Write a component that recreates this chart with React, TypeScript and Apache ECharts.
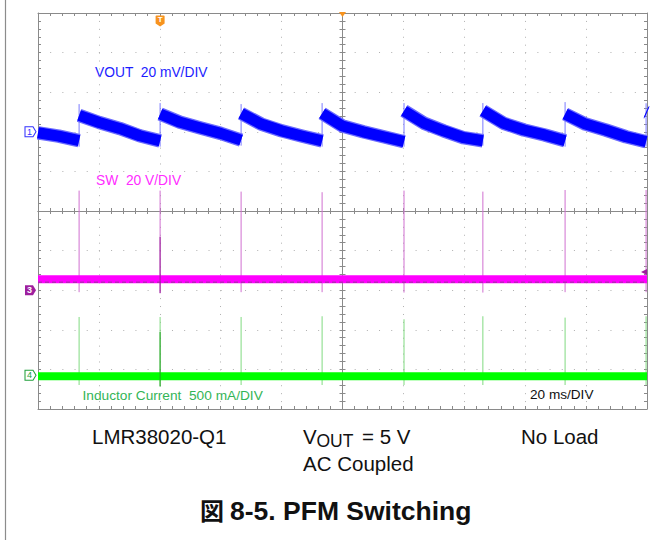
import React, { useEffect, useRef } from "react";
import * as echarts from "echarts";

const FONT = "'Liberation Sans', Arial, Helvetica, sans-serif";
const TITLE_FONT = "'Liberation Sans', Arial, 'Noto Sans CJK JP', sans-serif";

// Horizontal: time in ms, 20 ms/DIV, 10 divisions
const timeMin = -100;
const timeMax = 100;
const timePerDiv = 20;
// Vertical: screen divisions
const divMin = -5;
const divMax = 5;

// Channel reference levels (div) and scales
const ch1Ref = 2.0; // VOUT, mV/div
const ch1PerDiv = 20;
const ch3Ref = -2.0; // SW, V/div
const ch3PerDiv = 20;
const ch4Ref = -4.15; // inductor current, mA/div
const ch4PerDiv = 500;

// PFM pulse times (ms)
const pulseTimes = [-86.5, -59.9, -33.3, -6.7, 20.2, 46.1, 73.1, 99.7];
const triggerIndex = 1;

// VOUT ripple (mV, AC coupled), one segment between pulses
const voutSegments: [number, number][][] = [
  [[-100, -0.5], [-93.2, -2.2], [-86.5, -4.5]],
  [[-86.5, 8.3], [-79.9, 4.7], [-73.2, 1.7], [-66.6, -2.0], [-59.9, -4.6]],
  [[-59.9, 9.0], [-53.3, 4.8], [-46.6, 1.9], [-40.0, -0.8], [-33.3, -4.2]],
  [[-33.3, 9.3], [-26.7, 3.9], [-20.0, 0.5], [-13.4, -2.1], [-6.7, -4.6]],
  [[-6.7, 9.3], [0.0, 2.9], [6.8, 0.0], [13.5, -2.5], [20.2, -5.0]],
  [[20.2, 10.6], [26.7, 4.4], [33.2, 0.5], [39.6, -2.9], [46.1, -4.5]],
  [[46.1, 10.6], [52.9, 4.3], [59.6, 0.9], [66.4, -1.6], [73.1, -4.5]],
  [[73.1, 9.0], [79.8, 3.9], [86.4, 0.9], [93.1, -2.5], [99.7, -5.0]],
  [[99.7, 10.0], [100, 9.8]],
];
const voutJumpLow = [-7.5, -7.5, -7.0, -7.5, -7.5, -7.0, -7.5, -7.5];
const voutJumpHigh = [14.0, 14.5, 14.0, 14.5, 14.5, 14.5, 15.0, 14.4];

// SW node (V)
const swBase = 5.5;
const swNoiseLow = 4.0;
const swPulseHigh = [50.3, 50.3, 49.8, 49.5, 50.3, 49.8, 50.6, 50.6];
const swPulseLow = [-1.0, -1.5, -1.0, -1.0, -1.2, -1.2, -1.0, -1.0];
const swTriggerDarkTop = 26.9;
const swTriggerLevel = 9.2;

// Inductor current (mA)
const ilBase = -10;
const ilPulseHigh = [737, 737, 737, 746, 708, 746, 729, 746];
const ilPulseLow = [-122, -140, -122, -122, -122, -122, -122, -122];
const ilTriggerDarkTop = 547;

// Trigger-position marker height (div)
const triggerMarkerDiv = 4.8;

const conv = (ref: number, perDiv: number) => (v: number) => ref + v / perDiv;
const toCh1 = conv(ch1Ref, ch1PerDiv);
const toCh3 = conv(ch3Ref, ch3PerDiv);
const toCh4 = conv(ch4Ref, ch4PerDiv);

function buildBand(): (number | null)[][] {
  const out: (number | null)[][] = [];
  voutSegments.forEach((seg, i) => {
    if (i > 0) out.push([seg[0][0], null]);
    seg.forEach(([t, mv]) => out.push([t, toCh1(mv)]));
  });
  return out;
}

function buildSpikes(lows: number[], highs: number[], f: (v: number) => number) {
  const out: (number | null)[][] = [];
  pulseTimes.forEach((t, i) => {
    out.push([t, f(lows[i])], [t, f(highs[i])], [t, null]);
  });
  return out;
}

const GRID_COLOR = "#8a8a8a";

function makeXAxis(extra: any) {
  return {
    type: "value",
    min: timeMin,
    max: timeMax,
    interval: timePerDiv,
    axisLabel: { show: false },
    splitLine: { show: false },
    axisLine: { show: true, onZero: false, lineStyle: { color: GRID_COLOR, width: 1 } },
    axisTick: { show: true, inside: true, length: 3, lineStyle: { color: GRID_COLOR } },
    minorTick: { show: true, splitNumber: 5, length: 3, lineStyle: { color: GRID_COLOR } },
    ...extra,
  };
}
function makeYAxis(extra: any) {
  return {
    type: "value",
    min: divMin,
    max: divMax,
    interval: 1,
    axisLabel: { show: false },
    splitLine: { show: false },
    axisLine: { show: true, onZero: false, lineStyle: { color: GRID_COLOR, width: 1 } },
    axisTick: { show: true, inside: true, length: 3, lineStyle: { color: GRID_COLOR } },
    minorTick: { show: true, splitNumber: 5, length: 3, lineStyle: { color: GRID_COLOR } },
    ...extra,
  };
}

export default function App() {
  const ref = useRef<HTMLDivElement>(null);
  useEffect(() => {
    if (!ref.current) return;
    const chart = echarts.init(ref.current, null, { renderer: "svg" });
    const base = {
      type: "line",
      xAxisIndex: 0,
      yAxisIndex: 0,
      symbol: "none",
      showSymbol: false,
      connectNulls: false,
      silent: true,
    };
    const tickColor = GRID_COLOR;
    const band = buildBand();
    const option: any = {
      animation: false,
      backgroundColor: "#ffffff",
      grid: { left: 38, top: 13, width: 609, height: 396, show: false },
      xAxis: [
        makeXAxis({
          position: "bottom",
          axisLine: { show: true, onZero: true, onZeroAxisIndex: 0, lineStyle: { color: tickColor, width: 1 } },
          splitLine: { show: true, lineStyle: { color: "#b0b0b0", width: 1, type: [1, 6.92] } },
        }),
        makeXAxis({
          position: "bottom",
          axisLine: { show: true, onZero: true, onZeroAxisIndex: 0, lineStyle: { color: tickColor, width: 1 } },
          axisTick: { show: true, inside: false, length: 3, lineStyle: { color: tickColor } },
        }),
        makeXAxis({ position: "top" }),
        makeXAxis({ position: "bottom" }),
      ],
      yAxis: [
        makeYAxis({
          position: "left",
          axisLine: { show: true, onZero: true, onZeroAxisIndex: 0, lineStyle: { color: tickColor, width: 1 } },
          splitLine: { show: true, lineStyle: { color: "#b0b0b0", width: 1, type: [1, 11.18] } },
        }),
        makeYAxis({
          position: "left",
          axisLine: { show: true, onZero: true, onZeroAxisIndex: 0, lineStyle: { color: tickColor, width: 1 } },
          axisTick: { show: true, inside: false, length: 3, lineStyle: { color: tickColor } },
        }),
        makeYAxis({ position: "left" }),
        makeYAxis({ position: "right" }),
      ],
      series: [
        { ...base, name: "SW spikes", data: buildSpikes(swPulseLow, swPulseHigh, toCh3), lineStyle: { color: "#d070d0", width: 1 } },
        { ...base, name: "IL spikes", data: buildSpikes(ilPulseLow, ilPulseHigh, toCh4), lineStyle: { color: "#80da80", width: 1 } },
        {
          ...base,
          name: "VOUT jumps",
          data: buildSpikes(voutJumpLow, voutJumpHigh, toCh1),
          lineStyle: { color: "#7a7aff", width: 1 },
        },
        {
          ...base,
          name: "VOUT halo",
          data: band,
          lineStyle: { color: "#6b6bff", width: 13.5, cap: "butt", join: "round" },
        },
        {
          ...base,
          name: "VOUT",
          data: band,
          lineStyle: { color: "#0000ff", width: 11, cap: "butt", join: "round" },
          markPoint: {
            silent: true,
            data: [
              {
                coord: [timeMin, ch1Ref],
                symbol: "path://M0,0 L8,0 L11,5 L8,10 L0,10 Z",
                symbolSize: [11, 10],
                symbolOffset: [-7.5, 0],
                itemStyle: { color: "#ffffff", borderColor: "#3333ff", borderWidth: 1 },
                label: { show: true, position: "inside", formatter: "1", color: "#3333ff", fontSize: 9, fontFamily: FONT, offset: [-1, 0] },
              },
              {
                coord: [pulseTimes[triggerIndex], triggerMarkerDiv],
                symbol: "path://M1,0 L9,0 Q10,0 10,1 L10,8 L5,11 L0,8 L0,1 Q0,0 1,0 Z",
                symbolSize: [9, 11],
                itemStyle: { color: "#f7931e" },
                label: { show: true, position: "inside", formatter: "T", color: "#ffffff", fontSize: 8, fontWeight: "bold", fontFamily: FONT, offset: [0, -1] },
              },
              {
                coord: [0, divMax],
                symbol: "triangle",
                symbolRotate: 180,
                symbolSize: [7, 5],
                symbolOffset: [0, 1.5],
                itemStyle: { color: "#f7931e" },
                label: { show: false },
              },
            ],
          },
        },
        {
          ...base,
          name: "SW",
          data: [[timeMin, toCh3(swBase)], [timeMax, toCh3(swBase)]],
          lineStyle: { color: "#ff00ff", width: 8, cap: "butt" },
          markPoint: {
            silent: true,
            data: [
              {
                coord: [timeMin, ch3Ref],
                symbol: "path://M0,0 L8,0 L11,5 L8,10 L0,10 Z",
                symbolSize: [11, 10],
                symbolOffset: [-7.5, 0],
                itemStyle: { color: "#9e1f9e" },
                label: { show: true, position: "inside", formatter: "3", color: "#ffffff", fontSize: 9, fontWeight: "bold", fontFamily: FONT, offset: [-1, 0] },
              },
              {
                coord: [timeMax, toCh3(swTriggerLevel)],
                symbol: "triangle",
                symbolRotate: 90,
                symbolSize: [6, 6],
                symbolOffset: [-3, 0],
                itemStyle: { color: "#9e1f9e" },
                label: { show: false },
              },
            ],
          },
        },
        {
          ...base,
          name: "SW noise floor",
          data: [[timeMin, toCh3(swNoiseLow)], [timeMax, toCh3(swNoiseLow)]],
          lineStyle: { color: "#b824b8", width: 1.5, type: [4, 3] },
        },
        {
          ...base,
          name: "IL",
          data: [[timeMin, toCh4(ilBase)], [timeMax, toCh4(ilBase)]],
          lineStyle: { color: "#00ff00", width: 8, cap: "butt" },
          markPoint: {
            silent: true,
            data: [
              {
                coord: [timeMin, ch4Ref],
                symbol: "path://M0,0 L8,0 L11,5 L8,10 L0,10 Z",
                symbolSize: [11, 10],
                symbolOffset: [-7.5, 0],
                itemStyle: { color: "#ffffff", borderColor: "#22a03c", borderWidth: 1 },
                label: { show: true, position: "inside", formatter: "4", color: "#22a03c", fontSize: 9, fontFamily: FONT, offset: [-1, 0] },
              },
            ],
          },
        },
        {
          ...base,
          name: "SW trigger pulse",
          data: [
            [pulseTimes[triggerIndex], toCh3(swPulseLow[triggerIndex])],
            [pulseTimes[triggerIndex], toCh3(swTriggerDarkTop)],
          ],
          lineStyle: { color: "#9a229a", width: 1 },
        },
        {
          ...base,
          name: "IL trigger pulse",
          data: [
            [pulseTimes[triggerIndex], toCh4(ilPulseLow[triggerIndex])],
            [pulseTimes[triggerIndex], toCh4(ilTriggerDarkTop)],
          ],
          lineStyle: { color: "#22a022", width: 1 },
        },
      ],
      graphic: [
        { type: "line", shape: { x1: 5.5, y1: 0, x2: 5.5, y2: 540 }, style: { stroke: "#8c8c8c", lineWidth: 1.2 }, silent: true },
        { type: "text", x: 95, y: 72, style: { text: "VOUT  20 mV/DIV", fill: "#1c1cff", fontSize: 13.8, fontFamily: FONT, verticalAlign: "middle" } },
        { type: "text", x: 96, y: 180, style: { text: "SW  20 V/DIV", fill: "#ff2cff", fontSize: 13.8, fontFamily: FONT, verticalAlign: "middle" } },
        { type: "text", x: 82.5, y: 395, style: { text: "Inductor Current  500 mA/DIV", fill: "#33b556", fontSize: 13.7, fontFamily: FONT, verticalAlign: "middle" } },
        { type: "text", x: 530, y: 394.5, style: { text: "20 ms/DIV", fill: "#111111", fontSize: 13.6, fontFamily: FONT, verticalAlign: "middle" } },
        { type: "text", x: 92, y: 436, style: { text: "LMR38020-Q1", fill: "#111111", fontSize: 20.5, fontFamily: FONT, verticalAlign: "middle" } },
        { type: "text", x: 303, y: 436, style: { text: "V", fill: "#111111", fontSize: 20.5, fontFamily: FONT, verticalAlign: "middle" } },
        { type: "text", x: 316.5, y: 440.5, style: { text: "OUT", fill: "#111111", fontSize: 17.5, fontFamily: FONT, verticalAlign: "middle" } },
        { type: "text", x: 362, y: 436, style: { text: "= 5 V", fill: "#111111", fontSize: 20.5, fontFamily: FONT, verticalAlign: "middle" } },
        { type: "text", x: 521, y: 436, style: { text: "No Load", fill: "#111111", fontSize: 20.5, fontFamily: FONT, verticalAlign: "middle" } },
        { type: "text", x: 303, y: 463, style: { text: "AC Coupled", fill: "#111111", fontSize: 20.5, fontFamily: FONT, verticalAlign: "middle" } },
        { type: "text", x: 200, y: 511, style: { text: "図", fill: "#111111", fontSize: 24, fontWeight: "bold", fontFamily: TITLE_FONT, verticalAlign: "middle" } },
        { type: "text", x: 230, y: 511, style: { text: "8-5. PFM Switching", fill: "#111111", fontSize: 26.5, fontWeight: "bold", fontFamily: TITLE_FONT, verticalAlign: "middle" } },
      ],
    };
    chart.setOption(option);
    return () => chart.dispose();
  }, []);
  return (
    <div
      ref={ref}
      style={{ position: "absolute", left: 0, top: 0, width: 661, height: 540, background: "#ffffff" }}
    />
  );
}
